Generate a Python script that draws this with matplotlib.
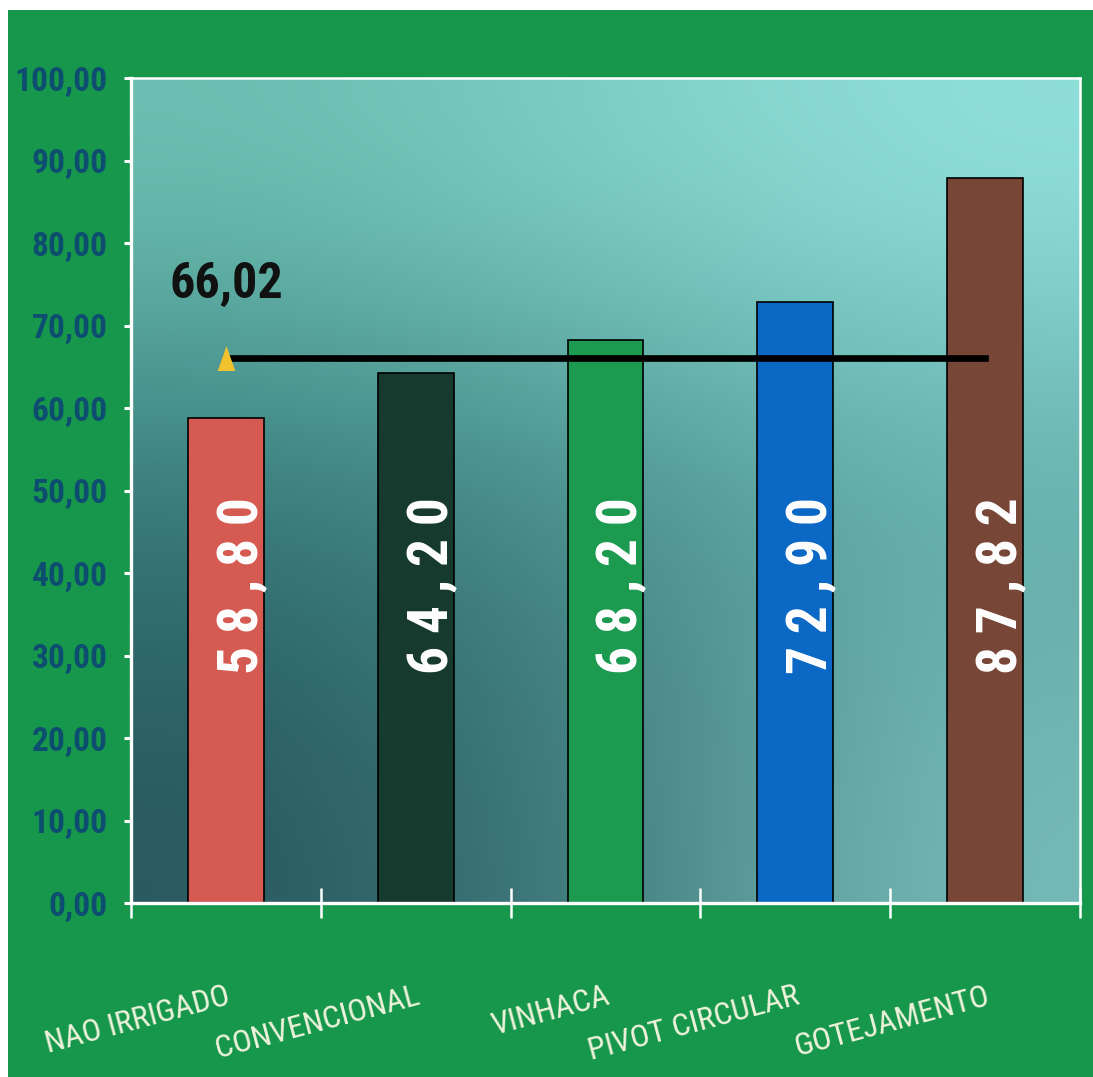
import matplotlib
matplotlib.use("Agg")
import matplotlib.pyplot as plt
import numpy as np
from matplotlib.patches import Rectangle

# valores por sistema de irrigacao
sistemas = ["NAO IRRIGADO", "CONVENCIONAL", "VINHACA", "PIVOT CIRCULAR", "GOTEJAMENTO"]
valores = [58.80, 64.20, 68.20, 72.90, 87.82]
cores = ["#d45a52", "#163a2e", "#1c9a50", "#0b68c4", "#774636"]
media = 66.02
yticks = [0, 10, 20, 30, 40, 50, 60, 70, 80, 90, 100]

verde = "#17974c"
azul_eixo = "#0d4d70"
creme = "#eef3dc"
narrow = ["Roboto Condensed", "DejaVu Sans"]


def virgula(v, espacado=False):
    s = f"{v:.2f}".replace(".", ",")
    return " ".join(s) if espacado else s


fig = plt.figure(figsize=(10.93, 10.77), dpi=100, facecolor="white")
# moldura verde atras do grafico
fig.patches.append(Rectangle((8 / 1093, 0), 1, 1 - 10 / 1077, transform=fig.transFigure,
                             facecolor=verde, edgecolor="none", zorder=-1))

ax = fig.add_axes([131 / 1093, (1077 - 903) / 1077, 949 / 1093, 825 / 1077])
ax.set_zorder(1)
ax.set_xlim(-0.5, len(sistemas) - 0.5)
ax.set_ylim(0, 100)

# fundo em degrade (escuro embaixo a esquerda, claro em cima a direita)
grade = np.array([
    [[108, 192, 178], [128, 210, 198], [145, 225, 220]],
    [[52, 120, 120], [72, 142, 140], [98, 170, 167]],
    [[40, 88, 94], [66, 126, 127], [118, 188, 184]],
]) / 255.0
ax.imshow(grade, extent=[-0.5, len(sistemas) - 0.5, 0, 100], aspect="auto",
          interpolation="bicubic", zorder=0)

x = np.arange(len(sistemas))
ax.bar(x, valores, width=0.4, color=cores, edgecolor="black", linewidth=1.2, zorder=2)

for xi, v in zip(x, valores):
    ax.text(xi + 0.09, 38.5, virgula(v, espacado=True), rotation=90, ha="center", va="center",
            color="white", fontsize=40, fontweight="bold", family=narrow, zorder=5)

# linha de referencia
marcador = [(-0.35, -0.5), (0.35, -0.5), (0, 0.5)]
ax.plot(x, [media] * len(x), color="black", linewidth=4.8, zorder=4,
        marker=marcador, markevery=[0], markersize=18,
        markerfacecolor="#f2c22e", markeredgecolor="none")
ax.text(0, media + 7.3, virgula(media), ha="center", va="baseline",
        fontsize=36, fontweight="bold", color="#111111", family=narrow, zorder=5)

for lado in ["left", "bottom", "top", "right"]:
    ax.spines[lado].set_color("white")
    ax.spines[lado].set_zorder(6)
ax.spines["left"].set_linewidth(2.4)
ax.spines["bottom"].set_linewidth(2.4)
ax.spines["top"].set_linewidth(1.8)
ax.spines["right"].set_linewidth(1.8)

ax.set_yticks(yticks)
ax.set_yticklabels([virgula(v) for v in yticks], family=narrow, fontsize=24,
                   fontweight="bold", color=azul_eixo)
ax.tick_params(axis="y", direction="out", length=5, width=2.2, color="white", pad=12)

ax.set_xticks(np.arange(len(sistemas) + 1) - 0.5)
ax.set_xticklabels([])
ax.tick_params(axis="x", direction="inout", length=22, width=1.8, color="white")

for xi, nome in zip(x, sistemas):
    ax.text(xi, -0.095, nome, transform=ax.get_xaxis_transform(), rotation=15,
            rotation_mode="anchor", ha="right", va="top", fontsize=23,
            color=creme, family=narrow, clip_on=False)

fig.savefig("out.png", dpi=100, facecolor=fig.get_facecolor())
